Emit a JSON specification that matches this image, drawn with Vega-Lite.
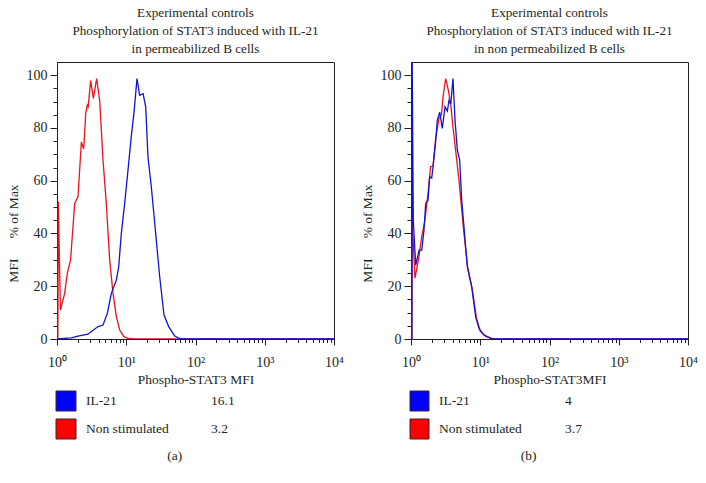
{
  "$schema": "https://vega.github.io/schema/vega-lite/v6.json",
  "padding": {"left": 5, "top": 5, "right": 5, "bottom": 5},
  "background": "white",
  "config": {
    "font": "Liberation Serif",
    "axis": {"grid": false, "domainColor": "#231f20", "tickColor": "#231f20", "labelColor": "#231f20", "titleColor": "#231f20", "labelFont": "Liberation Serif", "titleFont": "Liberation Serif", "labelFontSize": 14, "titleFontSize": 13.5, "titleFontWeight": "normal"},
    "title": {"font": "Liberation Serif", "fontWeight": "normal", "color": "#231f20"},
    "text": {"font": "Liberation Serif"}
  },
  "datasets": {
    "a": [
      {"series": "Non stimulated", "x": 1.03, "y": 0},
      {"series": "Non stimulated", "x": 1.045, "y": 52},
      {"series": "Non stimulated", "x": 1.12, "y": 11},
      {"series": "Non stimulated", "x": 1.29, "y": 17.3},
      {"series": "Non stimulated", "x": 1.41, "y": 25},
      {"series": "Non stimulated", "x": 1.57, "y": 30},
      {"series": "Non stimulated", "x": 1.8, "y": 51.4},
      {"series": "Non stimulated", "x": 2.01, "y": 54},
      {"series": "Non stimulated", "x": 2.25, "y": 74.7},
      {"series": "Non stimulated", "x": 2.43, "y": 72},
      {"series": "Non stimulated", "x": 2.6, "y": 85.5},
      {"series": "Non stimulated", "x": 2.74, "y": 88.6},
      {"series": "Non stimulated", "x": 2.82, "y": 88},
      {"series": "Non stimulated", "x": 3.06, "y": 98},
      {"series": "Non stimulated", "x": 3.35, "y": 91.2},
      {"series": "Non stimulated", "x": 3.74, "y": 98.7},
      {"series": "Non stimulated", "x": 4.13, "y": 90.5},
      {"series": "Non stimulated", "x": 4.62, "y": 67.8},
      {"series": "Non stimulated", "x": 5.15, "y": 51.4},
      {"series": "Non stimulated", "x": 5.76, "y": 30},
      {"series": "Non stimulated", "x": 6.44, "y": 17.3},
      {"series": "Non stimulated", "x": 7.2, "y": 8.5},
      {"series": "Non stimulated", "x": 8.04, "y": 3.4},
      {"series": "Non stimulated", "x": 9.28, "y": 0.9},
      {"series": "Non stimulated", "x": 10.6, "y": 0.2},
      {"series": "Non stimulated", "x": 13, "y": 0},
      {"series": "Non stimulated", "x": 10000, "y": 0},
      {"series": "IL-21", "x": 1.0, "y": 0},
      {"series": "IL-21", "x": 1.61, "y": 0.4},
      {"series": "IL-21", "x": 2.01, "y": 1.1},
      {"series": "IL-21", "x": 2.8, "y": 1.8},
      {"series": "IL-21", "x": 3.91, "y": 4.7},
      {"series": "IL-21", "x": 4.62, "y": 5.3},
      {"series": "IL-21", "x": 5.33, "y": 9.7},
      {"series": "IL-21", "x": 6.09, "y": 17.3},
      {"series": "IL-21", "x": 7.2, "y": 22.3},
      {"series": "IL-21", "x": 7.78, "y": 27.4},
      {"series": "IL-21", "x": 8.49, "y": 40},
      {"series": "IL-21", "x": 9.49, "y": 51.4},
      {"series": "IL-21", "x": 10.6, "y": 64},
      {"series": "IL-21", "x": 11.8, "y": 76.6},
      {"series": "IL-21", "x": 12.9, "y": 85.5},
      {"series": "IL-21", "x": 14.3, "y": 98.7},
      {"series": "IL-21", "x": 15.6, "y": 92.4},
      {"series": "IL-21", "x": 17.5, "y": 93},
      {"series": "IL-21", "x": 19.1, "y": 88},
      {"series": "IL-21", "x": 20.6, "y": 69},
      {"series": "IL-21", "x": 23, "y": 57.7},
      {"series": "IL-21", "x": 25.8, "y": 43.8},
      {"series": "IL-21", "x": 30.4, "y": 23.6},
      {"series": "IL-21", "x": 35.1, "y": 9.1},
      {"series": "IL-21", "x": 41, "y": 4.7},
      {"series": "IL-21", "x": 50.1, "y": 1.1},
      {"series": "IL-21", "x": 59.1, "y": 0.2},
      {"series": "IL-21", "x": 65, "y": 0},
      {"series": "IL-21", "x": 10000, "y": 0}
    ],
    "b": [
      {"series": "Non stimulated", "x": 1.03, "y": 0},
      {"series": "Non stimulated", "x": 1.04, "y": 45},
      {"series": "Non stimulated", "x": 1.14, "y": 23},
      {"series": "Non stimulated", "x": 1.28, "y": 30},
      {"series": "Non stimulated", "x": 1.43, "y": 38.8},
      {"series": "Non stimulated", "x": 1.59, "y": 45},
      {"series": "Non stimulated", "x": 1.78, "y": 56.4},
      {"series": "Non stimulated", "x": 1.92, "y": 65.3},
      {"series": "Non stimulated", "x": 2.08, "y": 65.5},
      {"series": "Non stimulated", "x": 2.27, "y": 76},
      {"series": "Non stimulated", "x": 2.54, "y": 83.6},
      {"series": "Non stimulated", "x": 2.75, "y": 85},
      {"series": "Non stimulated", "x": 2.9, "y": 91.8},
      {"series": "Non stimulated", "x": 3.17, "y": 98.7},
      {"series": "Non stimulated", "x": 3.46, "y": 94.3},
      {"series": "Non stimulated", "x": 3.74, "y": 89},
      {"series": "Non stimulated", "x": 4.04, "y": 80.4},
      {"series": "Non stimulated", "x": 4.52, "y": 69},
      {"series": "Non stimulated", "x": 4.93, "y": 60.2},
      {"series": "Non stimulated", "x": 5.21, "y": 53.3},
      {"series": "Non stimulated", "x": 5.82, "y": 40},
      {"series": "Non stimulated", "x": 6.6, "y": 27},
      {"series": "Non stimulated", "x": 7.6, "y": 19.5},
      {"series": "Non stimulated", "x": 8.8, "y": 8},
      {"series": "Non stimulated", "x": 10, "y": 3},
      {"series": "Non stimulated", "x": 12, "y": 1},
      {"series": "Non stimulated", "x": 15, "y": 0},
      {"series": "Non stimulated", "x": 10000, "y": 0},
      {"series": "IL-21", "x": 1.03, "y": 0},
      {"series": "IL-21", "x": 1.04, "y": 105},
      {"series": "IL-21", "x": 1.08, "y": 45},
      {"series": "IL-21", "x": 1.17, "y": 28},
      {"series": "IL-21", "x": 1.31, "y": 33.7},
      {"series": "IL-21", "x": 1.43, "y": 33.7},
      {"series": "IL-21", "x": 1.54, "y": 41.3},
      {"series": "IL-21", "x": 1.63, "y": 51.4},
      {"series": "IL-21", "x": 1.76, "y": 52.5},
      {"series": "IL-21", "x": 1.86, "y": 61.5},
      {"series": "IL-21", "x": 1.99, "y": 61},
      {"series": "IL-21", "x": 2.08, "y": 65.3},
      {"series": "IL-21", "x": 2.27, "y": 74.8},
      {"series": "IL-21", "x": 2.4, "y": 83},
      {"series": "IL-21", "x": 2.6, "y": 86},
      {"series": "IL-21", "x": 2.83, "y": 79.8},
      {"series": "IL-21", "x": 3.1, "y": 88},
      {"series": "IL-21", "x": 3.35, "y": 86.4},
      {"series": "IL-21", "x": 3.54, "y": 90.5},
      {"series": "IL-21", "x": 3.75, "y": 89},
      {"series": "IL-21", "x": 4.04, "y": 98.7},
      {"series": "IL-21", "x": 4.32, "y": 83},
      {"series": "IL-21", "x": 4.67, "y": 71.6},
      {"series": "IL-21", "x": 5.05, "y": 67.8},
      {"series": "IL-21", "x": 5.4, "y": 52.6},
      {"series": "IL-21", "x": 5.82, "y": 42.5},
      {"series": "IL-21", "x": 6.5, "y": 27.4},
      {"series": "IL-21", "x": 7.52, "y": 19.8},
      {"series": "IL-21", "x": 8.59, "y": 8.4},
      {"series": "IL-21", "x": 9.6, "y": 4},
      {"series": "IL-21", "x": 11.3, "y": 1.5},
      {"series": "IL-21", "x": 14.2, "y": 0.3},
      {"series": "IL-21", "x": 16, "y": 0},
      {"series": "IL-21", "x": 10000, "y": 0}
    ],
    "legA": [
      {"series": "IL-21", "mfi": "16.1"},
      {"series": "Non stimulated", "mfi": "3.2"}
    ],
    "legB": [
      {"series": "IL-21", "mfi": "4"},
      {"series": "Non stimulated", "mfi": "3.7"}
    ]
  },
  "resolve": {"scale": {"x": "independent", "y": "independent", "color": "independent"}},
  "spacing": 15,
  "hconcat": [
    {
      "title": {"text": "(a)", "orient": "bottom", "anchor": "middle", "frame": "bounds", "fontSize": 13.5, "offset": 9},
      "spacing": 4,
      "resolve": {"scale": {"x": "independent", "y": "independent", "color": "independent"}},
      "vconcat": [
        {
          "width": 277, "height": 277,
          "view": {"stroke": "#231f20"},
          "title": {"text": ["Experimental controls", "Phosphorylation of STAT3 induced with IL-21", "in permeabilized B cells"], "anchor": "middle", "frame": "group", "fontSize": 13.2, "lineHeight": 18, "offset": 6},
          "data": {"name": "a"},
          "mark": {"type": "line", "strokeWidth": 1.3, "clip": true},
          "encoding": {
            "x": {"field": "x", "type": "quantitative", "scale": {"type": "log", "domain": [1, 10000], "nice": false},
              "axis": {"title": "Phospho-STAT3 MFI", "values": [1,2,3,4,5,6,7,8,9,10,20,30,40,50,60,70,80,90,100,200,300,400,500,600,700,800,900,1000,2000,3000,4000,5000,6000,7000,8000,9000,10000],
                "labelExpr": "datum.value == 1 ? '10⁰' : datum.value == 10 ? '10¹' : datum.value == 100 ? '10²' : datum.value == 1000 ? '10³' : datum.value == 10000 ? '10⁴' : ''",
                "tickSize": {"condition": {"test": "indexof([1,10,100,1000,10000], datum.value) >= 0", "value": 6}, "value": 3.5},
                "labelOverlap": false, "labelFlush": false, "labelPadding": 10, "titlePadding": 3}},
            "y": {"field": "y", "type": "quantitative", "scale": {"domain": [0, 105], "nice": false},
              "axis": {"title": "MFI\u2003\u2002% of Max", "values": [0,5,10,15,20,25,30,35,40,45,50,55,60,65,70,75,80,85,90,95,100],
                "labelExpr": "datum.value % 20 == 0 ? datum.label : ''",
                "tickSize": {"condition": {"test": "datum.value % 20 == 0", "value": 7}, "value": 4},
                "labelOverlap": false, "labelPadding": 3, "titleAngle": 270, "titleX": -40, "titleY": 171, "titleAlign": "center", "titleBaseline": "alphabetic"}},
            "color": {"field": "series", "type": "nominal", "scale": {"domain": ["Non stimulated", "IL-21"], "range": ["#e8141c", "#1212d6"]}, "legend": null}
          }
        },
        {
          "width": 277, "height": 48,
          "view": {"stroke": null},
          "data": {"name": "legA"},
          "encoding": {
            "y": {"field": "series", "type": "nominal", "scale": {"domain": ["IL-21", "Non stimulated"], "paddingInner": 0.2857, "paddingOuter": 0}, "axis": null}
          },
          "layer": [
            {
              "mark": {"type": "rect", "stroke": "#3b2426", "strokeWidth": 1},
              "encoding": {
                "x": {"datum": -1, "type": "quantitative", "scale": {"domain": [0, 277], "nice": false, "zero": false}, "axis": null},
                "x2": {"datum": 19},
                "color": {"field": "series", "type": "nominal", "scale": {"domain": ["IL-21", "Non stimulated"], "range": ["#0000ff", "#ff0000"]}, "legend": null}
              }
            },
            {
              "mark": {"type": "text", "align": "left", "baseline": "middle", "fontSize": 13.5, "color": "#231f20"},
              "encoding": {"x": {"datum": 29, "type": "quantitative"}, "text": {"field": "series"}}
            },
            {
              "mark": {"type": "text", "align": "left", "baseline": "middle", "fontSize": 13.5, "color": "#231f20"},
              "encoding": {"x": {"datum": 154, "type": "quantitative"}, "text": {"field": "mfi"}}
            }
          ]
        }
      ]
    },
    {
      "title": {"text": "(b)", "orient": "bottom", "anchor": "middle", "frame": "bounds", "fontSize": 13.5, "offset": 9},
      "spacing": 4,
      "resolve": {"scale": {"x": "independent", "y": "independent", "color": "independent"}},
      "vconcat": [
        {
          "width": 277, "height": 277,
          "view": {"stroke": "#231f20"},
          "title": {"text": ["Experimental controls", "Phosphorylation of STAT3 induced with IL-21", "in non permeabilized B cells"], "anchor": "middle", "frame": "group", "fontSize": 13.2, "lineHeight": 18, "offset": 6},
          "data": {"name": "b"},
          "mark": {"type": "line", "strokeWidth": 1.3, "clip": true},
          "encoding": {
            "x": {"field": "x", "type": "quantitative", "scale": {"type": "log", "domain": [1, 10000], "nice": false},
              "axis": {"title": "Phospho-STAT3MFI", "values": [1,2,3,4,5,6,7,8,9,10,20,30,40,50,60,70,80,90,100,200,300,400,500,600,700,800,900,1000,2000,3000,4000,5000,6000,7000,8000,9000,10000],
                "labelExpr": "datum.value == 1 ? '10⁰' : datum.value == 10 ? '10¹' : datum.value == 100 ? '10²' : datum.value == 1000 ? '10³' : datum.value == 10000 ? '10⁴' : ''",
                "tickSize": {"condition": {"test": "indexof([1,10,100,1000,10000], datum.value) >= 0", "value": 6}, "value": 3.5},
                "labelOverlap": false, "labelFlush": false, "labelPadding": 10, "titlePadding": 3}},
            "y": {"field": "y", "type": "quantitative", "scale": {"domain": [0, 105], "nice": false},
              "axis": {"title": "MFI\u2003\u2002% of Max", "values": [0,5,10,15,20,25,30,35,40,45,50,55,60,65,70,75,80,85,90,95,100],
                "labelExpr": "datum.value % 20 == 0 ? datum.label : ''",
                "tickSize": {"condition": {"test": "datum.value % 20 == 0", "value": 7}, "value": 4},
                "labelOverlap": false, "labelPadding": 3, "titleAngle": 270, "titleX": -40, "titleY": 171, "titleAlign": "center", "titleBaseline": "alphabetic"}},
            "color": {"field": "series", "type": "nominal", "scale": {"domain": ["Non stimulated", "IL-21"], "range": ["#e8141c", "#1212d6"]}, "legend": null}
          }
        },
        {
          "width": 277, "height": 48,
          "view": {"stroke": null},
          "data": {"name": "legB"},
          "encoding": {
            "y": {"field": "series", "type": "nominal", "scale": {"domain": ["IL-21", "Non stimulated"], "paddingInner": 0.2857, "paddingOuter": 0}, "axis": null}
          },
          "layer": [
            {
              "mark": {"type": "rect", "stroke": "#3b2426", "strokeWidth": 1},
              "encoding": {
                "x": {"datum": -1, "type": "quantitative", "scale": {"domain": [0, 277], "nice": false, "zero": false}, "axis": null},
                "x2": {"datum": 18},
                "color": {"field": "series", "type": "nominal", "scale": {"domain": ["IL-21", "Non stimulated"], "range": ["#0000ff", "#ff0000"]}, "legend": null}
              }
            },
            {
              "mark": {"type": "text", "align": "left", "baseline": "middle", "fontSize": 13.5, "color": "#231f20"},
              "encoding": {"x": {"datum": 28, "type": "quantitative"}, "text": {"field": "series"}}
            },
            {
              "mark": {"type": "text", "align": "left", "baseline": "middle", "fontSize": 13.5, "color": "#231f20"},
              "encoding": {"x": {"datum": 154, "type": "quantitative"}, "text": {"field": "mfi"}}
            }
          ]
        }
      ]
    }
  ]
}
